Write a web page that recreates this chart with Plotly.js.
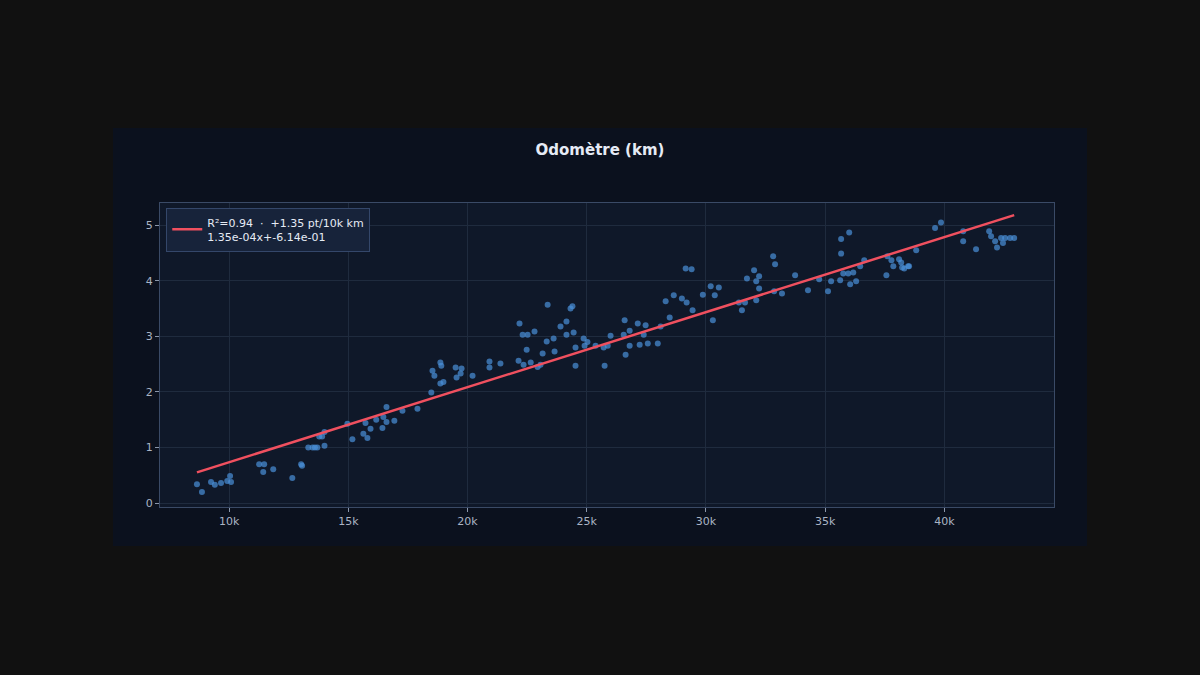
<!DOCTYPE html>
<html>
<head>
<meta charset="utf-8">
<script src="https://cdn.plot.ly/plotly-3.0.1.min.js"></script>
<style>
  html, body { margin: 0; padding: 0; background: #111111; width: 1200px; height: 675px; overflow: hidden; }
  #chart { position: absolute; left: 113px; top: 128px; width: 974px; height: 418px; }
</style>
</head>
<body>
<div id="chart"></div>
<script>
// odometer readings (km) and scores
const odometer = [
  8650, 8860, 9240, 9400, 9660, 9920, 10040, 10080,
  11260, 11470, 11430, 11850, 12650, 13020, 13060, 13320, 13500, 13600, 13700, 13780, 13900, 14000, 14000,
  14960, 15170, 15630, 15720, 15800, 15930, 16170, 16430, 16470, 16600, 16600, 16930, 17270, 17900,
  18480, 18530, 18610, 18860, 18900, 18860, 18990, 19500, 19540, 19710, 19750, 20210, 20920, 20920, 21380,
  22180, 22310, 22520, 22140, 22350, 22480, 22650, 22810, 22940, 23060, 23150, 23360, 23320, 23610, 23650,
  23900, 24150, 24150, 24320, 24400, 24450, 24530, 24530, 24870, 24910, 25030, 25370, 25710, 25750, 25880,
  26000, 26550, 26590, 26630, 26800, 26800, 27140, 27220, 27390, 27470, 27560, 27980, 28100, 28310, 28480,
  28650, 28990, 29150, 29190, 29400, 29440, 29870, 30200, 30290, 30370, 30540,
  31380, 31510, 31640, 31720, 32020, 32110, 32110, 32230, 32230, 32820, 32860, 32900, 33190, 33740, 34280,
  34750, 35120, 35250, 35630, 35670, 35670, 35760, 35970, 36010, 36050, 36180, 36300, 36470, 36640,
  37570, 37610, 37780, 37860, 38100, 38190, 38230, 38320, 38480, 38520, 38820, 39610, 39860,
  40790, 40790, 41330, 41880, 41960, 42130, 42210, 42380, 42460, 42550, 42760, 42930
];
const scores = [
  0.34, 0.2, 0.38, 0.33, 0.36, 0.4, 0.49, 0.38,
  0.7, 0.7, 0.56, 0.61, 0.45, 0.7, 0.67, 1.0, 1.0, 1.0, 1.0, 1.2, 1.2, 1.03, 1.28,
  1.43, 1.15, 1.25, 1.44, 1.17, 1.34, 1.5, 1.35, 1.55, 1.73, 1.46, 1.48, 1.66, 1.7,
  1.99, 2.38, 2.29, 2.53, 2.47, 2.15, 2.18, 2.44, 2.26, 2.33, 2.42, 2.29, 2.55, 2.44, 2.51,
  3.23, 3.03, 3.03, 2.56, 2.49, 2.76, 2.53, 3.09, 2.45, 2.49, 2.69, 3.57, 2.91, 2.96, 2.73,
  3.18, 3.03, 3.27, 3.5, 3.54, 3.07, 2.8, 2.47, 2.96, 2.83, 2.9, 2.83, 2.8, 2.47, 2.83,
  3.01, 3.03, 3.29, 2.67, 3.1, 2.83, 3.23, 2.85, 3.03, 3.2, 2.87, 2.87, 3.18, 3.63, 3.34,
  3.74, 3.68, 4.22, 3.61, 4.21, 3.47, 3.75, 3.9, 3.29, 3.74, 3.88,
  3.61, 3.47, 3.61, 4.04, 4.19, 3.99, 3.65, 4.08, 3.86, 4.44, 3.81, 4.3, 3.77, 4.1, 3.83,
  4.03, 3.81, 3.99, 4.01, 4.75, 4.49, 4.13, 4.13, 4.87, 3.94, 4.15, 3.99, 4.26, 4.37,
  4.1, 4.44, 4.37, 4.26, 4.39, 4.33, 4.24, 4.22, 4.26, 4.26, 4.55, 4.95, 5.05,
  4.89, 4.71, 4.57, 4.89, 4.8, 4.71, 4.6, 4.77, 4.68, 4.77, 4.77, 4.77
];
const fitSlope = 1.35e-4;
const fitIntercept = -6.14e-1;
const fitLabel = 'R²=0.94  ·  +1.35 pt/10k km<br>1.35e-04x+-6.14e-01';

const xMin = Math.min(...odometer);
const xMax = Math.max(...odometer);

const points = {
  x: odometer,
  y: scores,
  type: 'scatter',
  mode: 'markers',
  showlegend: false,
  hoverinfo: 'skip',
  marker: { color: '#4a90d9', size: 6, opacity: 0.7 }
};

const fit = {
  x: [xMin, xMax],
  y: [fitSlope * xMin + fitIntercept, fitSlope * xMax + fitIntercept],
  type: 'scatter',
  mode: 'lines',
  name: fitLabel,
  line: { color: '#f0505f', width: 2.5 }
};

const axisStyle = {
  gridcolor: '#1f2b3e',
  linecolor: '#3a4a66',
  linewidth: 1,
  mirror: true,
  showline: true,
  zeroline: false,
  ticks: 'outside',
  ticklen: 4,
  tickcolor: '#8a96aa',
  tickfont: { color: '#aab4c4', size: 11 }
};

const layout = {
  paper_bgcolor: '#0b111e',
  plot_bgcolor: '#0f1829',
  font: { family: 'DejaVu Sans, sans-serif', color: '#dfe5ef' },
  margin: { l: 47, r: 33, t: 75, b: 39 },
  title: { text: '<b>Odomètre (km)</b>', x: 0.5, y: 0.96, yanchor: 'top', font: { size: 15, color: '#e6ebf5' } },
  xaxis: Object.assign({}, axisStyle, { range: [7100, 44600], tickvals: [10000, 15000, 20000, 25000, 30000, 35000, 40000] }),
  yaxis: Object.assign({}, axisStyle, { range: [-0.07, 5.4], tickvals: [0, 1, 2, 3, 4, 5] }),
  showlegend: true,
  legend: {
    x: 0.007, y: 0.985, xanchor: 'left', yanchor: 'top',
    bgcolor: '#17233a', bordercolor: '#34476a', borderwidth: 1,
    font: { size: 11, color: '#e6ebf5' }
  }
};

Plotly.newPlot('chart', [points, fit], layout, { displayModeBar: false, staticPlot: true });
</script>
</body>
</html>
